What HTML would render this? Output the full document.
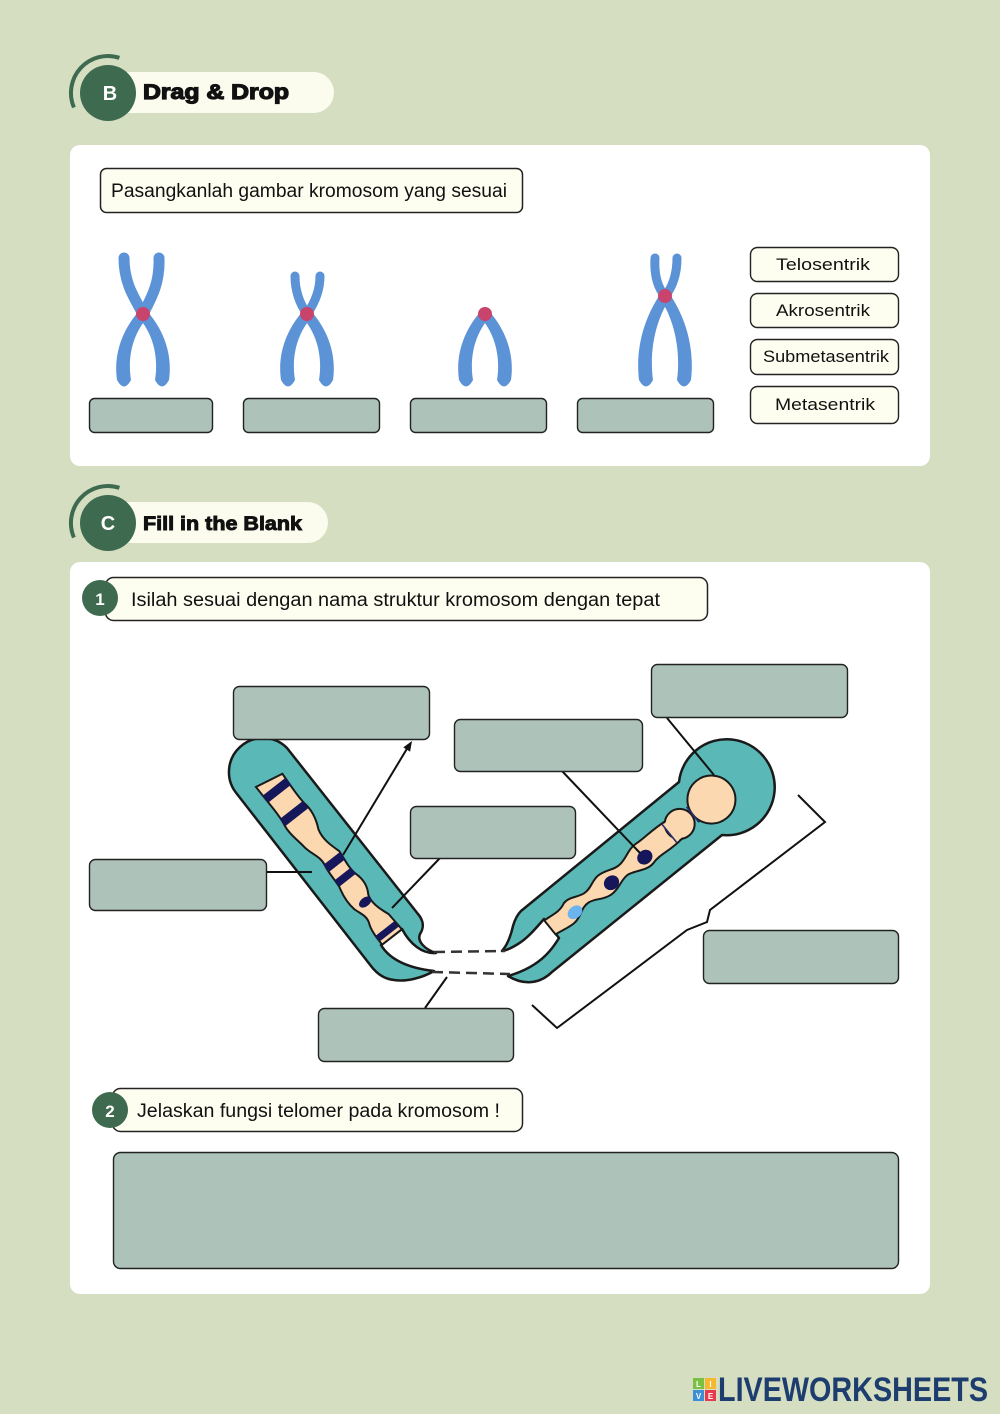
<!DOCTYPE html>
<html><head><meta charset="utf-8">
<style>
html,body{margin:0;padding:0;background:#d5dec1;}
svg{display:block;}
text{font-family:"Liberation Sans",sans-serif;}
</style></head>
<body>
<svg width="1000" height="1414" viewBox="0 0 1000 1414" xmlns="http://www.w3.org/2000/svg">
<rect width="1000" height="1414" fill="#d5dec1"/>

<!-- Header B -->
<rect x="100" y="72" width="234" height="41" rx="20.5" fill="#fbfbee"/>
<path d="M119.4,57.8 A37 37 0 0 0 73.9,107.5" stroke="#3e6a50" stroke-width="4" fill="none"/>
<circle cx="108" cy="93" r="28" fill="#3e6a50"/>
<text x="110" y="100" font-size="20" font-weight="bold" fill="#fff" text-anchor="middle">B</text>
<text x="143" y="99" font-size="21" font-weight="bold" fill="#111" stroke="#111" stroke-width="1.2" textLength="146" lengthAdjust="spacingAndGlyphs">Drag &amp; Drop</text>

<!-- Card 1 -->
<rect x="70" y="145" width="860" height="321" rx="10" fill="#fff"/>
<rect x="100.5" y="168.5" width="422" height="44" rx="6" fill="#fdfdf0" stroke="#222" stroke-width="1.5"/>
<text x="111" y="197" font-size="19" fill="#111" textLength="396" lengthAdjust="spacingAndGlyphs">Pasangkanlah gambar kromosom yang sesuai</text>

<!-- chromosomes -->
<g fill="none" stroke="#5b93d6" stroke-linecap="round">
  <path d="M143,314 C136,300 124,285 124,258" stroke-width="11"/>
  <path d="M143,314 C150,300 160,285 159,258" stroke-width="11"/>
  <path d="M307,314 C300,304 295,292 295,276" stroke-width="9"/>
  <path d="M307,314 C314,304 320,292 320,276" stroke-width="9"/>
  <path d="M665,296 C658,288 654,275 655,258" stroke-width="9"/>
  <path d="M665,296 C672,288 677,275 677,258" stroke-width="9"/>
</g>
<g fill="#5b93d6">
  <path d="M139,311 C124,328 113,352 117,380 Q124,393 131,380 C127,355 134,333 147,318 Z"/>
  <path d="M147,311 C162,328 173,352 169,380 Q162,393 155,380 C159,355 152,333 139,318 Z"/>
  <path d="M303,311 C288,328 277,352 281,380 Q288,393 295,380 C291,355 298,333 311,318 Z"/>
  <path d="M311,311 C326,328 337,352 333,380 Q326,393 319,380 C323,355 316,333 303,318 Z"/>
  <path d="M481,311 C466,328 455,352 459,380 Q466,393 473,380 C469,355 476,333 489,318 Z"/>
  <path d="M489,311 C504,328 515,352 511,380 Q504,393 497,380 C501,355 494,333 481,318 Z"/>
  <path d="M661,293 C646,315 635,345 639,380 Q646,393 653,380 C649,350 656,320 669,300 Z"/>
  <path d="M669,293 C684,315 695,345 691,380 Q684,393 677,380 C681,350 674,320 661,300 Z"/>
</g>
<g fill="#c9446c">
  <circle cx="143" cy="314" r="7"/>
  <circle cx="307" cy="314" r="7"/>
  <circle cx="485" cy="314" r="7"/>
  <circle cx="665" cy="296" r="7"/>
</g>

<g fill="#adc2b9" stroke="#222" stroke-width="1.4">
  <rect x="89.5" y="398.5" width="123" height="34" rx="5"/>
  <rect x="243.5" y="398.5" width="136" height="34" rx="5"/>
  <rect x="410.5" y="398.5" width="136" height="34" rx="5"/>
  <rect x="577.5" y="398.5" width="136" height="34" rx="5"/>
</g>

<g fill="#fdfdf0" stroke="#222" stroke-width="1.4">
  <rect x="750.5" y="247.5" width="148" height="34" rx="7"/>
  <rect x="750.5" y="293.5" width="148" height="34" rx="7"/>
  <rect x="750.5" y="339.5" width="148" height="35" rx="7"/>
  <rect x="750.5" y="386.5" width="148" height="37" rx="7"/>
</g>
<g font-size="17" fill="#111">
  <text x="776" y="270" textLength="94" lengthAdjust="spacingAndGlyphs">Telosentrik</text>
  <text x="776" y="316" textLength="94" lengthAdjust="spacingAndGlyphs">Akrosentrik</text>
  <text x="763" y="362" textLength="126" lengthAdjust="spacingAndGlyphs">Submetasentrik</text>
  <text x="775" y="410" textLength="100" lengthAdjust="spacingAndGlyphs">Metasentrik</text>
</g>

<!-- Header C -->
<rect x="100" y="502" width="228" height="41" rx="20.5" fill="#fbfbee"/>
<path d="M119.4,487.8 A37 37 0 0 0 73.9,537.5" stroke="#3e6a50" stroke-width="4" fill="none"/>
<circle cx="108" cy="523" r="28" fill="#3e6a50"/>
<text x="108" y="530" font-size="20" font-weight="bold" fill="#fff" text-anchor="middle">C</text>
<text x="143" y="530" font-size="19" font-weight="bold" fill="#111" stroke="#111" stroke-width="0.9" textLength="159" lengthAdjust="spacingAndGlyphs">Fill in the Blank</text>

<!-- Card 2 -->
<rect x="70" y="562" width="860" height="732" rx="10" fill="#fff"/>

<!-- Q1 -->
<rect x="105.5" y="577.5" width="602" height="43" rx="8" fill="#fdfdf0" stroke="#222" stroke-width="1.5"/>
<circle cx="100" cy="598" r="18" fill="#3e6a50"/>
<text x="100" y="605" font-size="17" font-weight="bold" fill="#fff" text-anchor="middle">1</text>
<text x="131" y="606" font-size="19" fill="#111" textLength="529" lengthAdjust="spacingAndGlyphs">Isilah sesuai dengan nama struktur kromosom  dengan tepat</text>

<!-- Diagram: left chromatid -->
<path d="M287,748 L418,914 C424,921 424,928 420,934 C417,941 424,949 436,953 C422,954 410,944 402,929 L381,945 C390,960 408,968 434,971 C422,978 406,982 394,980 C384,979 377,974 371,966 L237,794 A34 34 0 0 1 287,748 Z" fill="#5ab8b6" stroke="#1a1a1a" stroke-width="2.5" stroke-linejoin="round"/>
<g transform="translate(262,772) rotate(51.9)">
  <path d="M14,-15 C30,-14 40,-13 50,-14 C60,-16 70,-14 80,-9 C90,-6 100,-9 110,-12 C120,-11 130,-9 138,-11 C148,-14 156,-12 162,-8 C170,-5 180,-8 190,-12 L210,-13 L210,12 C200,12 192,12 185,9 C178,6 172,10 165,12 C155,14 145,12 138,10 C128,9 120,10 112,8 C102,6 95,12 85,13 C75,14 65,17 55,15 C45,13 30,14 8,14 Z" fill="#fcd8b0" stroke="#1a1a1a" stroke-width="2"/>
  <g fill="#15175a">
    <rect x="19" y="-15" width="9" height="29"/>
    <rect x="48" y="-14" width="9" height="29"/>
    <rect x="111" y="-12" width="9" height="21"/>
    <rect x="130" y="-11" width="8" height="21"/>
    <ellipse cx="166" cy="-1" rx="4.5" ry="7"/>
    <rect x="199" y="-12" width="7" height="24"/>
  </g>
</g>

<!-- Diagram: right chromatid -->
<path d="M679,782 A48 48 0 1 1 722,835 L552,972 C542,982 526,987 508,976 C522,972 536,965 546,955 C552,949 556,943 559,938 L544,919 C536,928 528,938 518,944 C513,947 508,950 502,951 C508,944 511,935 513,926 C515,919 517,915 521,911 Z" fill="#5ab8b6" stroke="#1a1a1a" stroke-width="2.5" stroke-linejoin="round"/>
<g transform="translate(727,787) rotate(141.1)">
  <path d="M68,-12 C85,-14 95,-10 105,-13 C115,-15 122,-8 132,-6 C140,-5 148,-12 158,-11 C168,-10 172,-4 180,-3 C190,-2 195,-10 205,-10 C212,-10 218,-8 226,-7 L226,11 C215,10 208,8 200,12 C192,14 186,8 178,7 C170,6 164,12 156,12 C146,12 140,6 132,7 C122,8 116,14 106,13 C96,12 86,14 68,12 Z" fill="#fcd8b0" stroke="#1a1a1a" stroke-width="2"/>
  <circle cx="60" cy="1" r="15" fill="#fcd8b0" stroke="#1a1a1a" stroke-width="2"/>
  <rect x="58" y="-11" width="16" height="22" fill="#fcd8b0"/>
  <circle cx="20" cy="0" r="24" fill="#fcd8b0" stroke="#1a1a1a" stroke-width="2"/>
  <line x1="44" y1="-10" x2="44" y2="10" stroke="#2a2d70" stroke-width="1.6"/>
  <line x1="74" y1="-12" x2="74" y2="12" stroke="#2a2d70" stroke-width="1.6"/>
  <ellipse cx="108" cy="-3" rx="8" ry="7" fill="#15175a"/>
  <ellipse cx="150" cy="-2" rx="8" ry="7" fill="#15175a"/>
  <ellipse cx="197" cy="-2" rx="8" ry="6" fill="#6cb4f0"/>
</g>

<!-- dashed lines -->
<line x1="434" y1="952" x2="505" y2="951" stroke="#333" stroke-width="2.5" stroke-dasharray="11 6"/>
<line x1="432" y1="972" x2="510" y2="974" stroke="#333" stroke-width="2.5" stroke-dasharray="11 6"/>

<!-- connectors -->
<g stroke="#111" stroke-width="2" fill="none">
  <line x1="343" y1="855" x2="408" y2="747"/>
  <line x1="267" y1="872" x2="312" y2="872"/>
  <line x1="440" y1="858" x2="392" y2="908"/>
  <line x1="562" y1="771" x2="640" y2="853"/>
  <line x1="667" y1="718" x2="714" y2="775"/>
  <line x1="425" y1="1008" x2="447" y2="977"/>
  <path d="M798,795 L825,822 L710,910 L707,922 L687,930 L557,1028 L532,1005"/>
</g>
<path d="M412,741 L410.1,751.6 L403.3,747.4 Z" fill="#111"/>

<!-- diagram boxes -->
<g fill="#adc2b9" stroke="#222" stroke-width="1.4">
  <rect x="233.5" y="686.5" width="196" height="53" rx="6"/>
  <rect x="454.5" y="719.5" width="188" height="52" rx="6"/>
  <rect x="651.5" y="664.5" width="196" height="53" rx="6"/>
  <rect x="410.5" y="806.5" width="165" height="52" rx="6"/>
  <rect x="89.5" y="859.5" width="177" height="51" rx="6"/>
  <rect x="703.5" y="930.5" width="195" height="53" rx="6"/>
  <rect x="318.5" y="1008.5" width="195" height="53" rx="6"/>
</g>

<!-- Q2 -->
<rect x="112.5" y="1088.5" width="410" height="43" rx="8" fill="#fdfdf0" stroke="#222" stroke-width="1.5"/>
<circle cx="110" cy="1110" r="18" fill="#3e6a50"/>
<text x="110" y="1117" font-size="17" font-weight="bold" fill="#fff" text-anchor="middle">2</text>
<text x="137" y="1117" font-size="19" fill="#111" textLength="363" lengthAdjust="spacingAndGlyphs">Jelaskan fungsi telomer pada kromosom !</text>

<rect x="113.5" y="1152.5" width="785" height="116" rx="7" fill="#adc2b9" stroke="#222" stroke-width="1.4"/>

<!-- logo -->
<rect x="693" y="1378" width="11" height="11" fill="#7ac143"/>
<rect x="705" y="1378" width="11" height="11" fill="#f5b82e"/>
<rect x="693" y="1390" width="11" height="11" fill="#3b8fd6"/>
<rect x="705" y="1390" width="11" height="11" fill="#e83a4f"/>
<g font-size="8" font-weight="bold" fill="#fff" text-anchor="middle">
  <text x="698.5" y="1387">L</text>
  <text x="710.5" y="1387">I</text>
  <text x="698.5" y="1399">V</text>
  <text x="710.5" y="1399">E</text>
</g>
<text x="718" y="1401" font-size="34" font-weight="bold" fill="#1c3d6e" textLength="270" lengthAdjust="spacingAndGlyphs">LIVEWORKSHEETS</text>
</svg>
</body></html>
